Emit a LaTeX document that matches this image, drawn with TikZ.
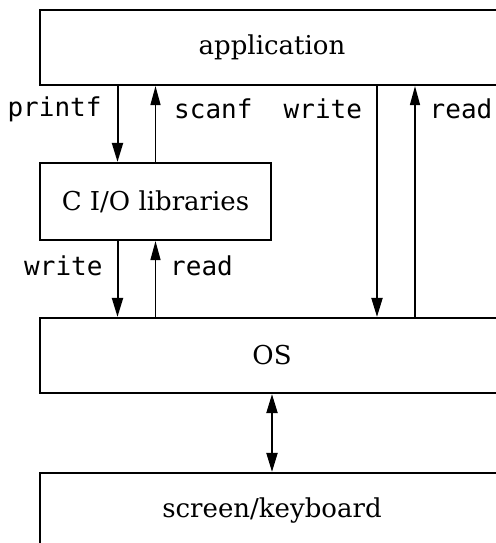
\documentclass[tikz,border=0pt]{standalone}
\usepackage{fontspec}
\setmainfont{DejaVu Serif}
\setmonofont{DejaVu Sans Mono}
\usetikzlibrary{arrows.meta, calc}

\begin{document}
\begin{tikzpicture}[x=1pt, y=1pt]
    % --- Styles ---
    \tikzstyle{layer}=[draw=black, line width=2.2pt, rectangle, minimum height=75pt, inner sep=0pt, font=\fontsize{26}{30}\selectfont]
    \tikzstyle{call}=[font=\ttfamily\fontsize{26}{30}\selectfont, inner sep=0pt]
    \tikzstyle{down}=[line width=2pt, -{Triangle[length=19pt, width=11pt]}]
    \tikzstyle{up}=[line width=1.4pt, -{Triangle[length=19pt, width=10pt]}]
    \tikzstyle{both}=[line width=2pt, {Triangle[length=19pt, width=11pt]}-{Triangle[length=19pt, width=11pt]}]

    \useasboundingbox (0, 0) rectangle (495, -543);
    \fill[white] (0, 0) rectangle (495, -543);

    % --- 1. Layers ---
    \node[layer, minimum width=464pt] (app) at (272, -47.5) {application};
    \node[layer, minimum width=231pt, minimum height=77pt] (lib) at (155.5, -201.5) {C I/O libraries};
    \node[layer, minimum width=464pt] (os) at (272, -355.5) {OS};
    \node[layer, minimum width=464pt] (dev) at (272, -510.5) {screen/keyboard};

    % --- 2. Calls through the library ---
    \draw[down] ($(lib.north |- app.south)+(-38, 0)$) -- ($(lib.north)+(-38, 0)$)
        node[call, pos=.3, left=15pt] {printf};
    \draw[up] (lib.north) -- (lib.north |- app.south)
        node[call, pos=.7, right=18pt] {scanf};
    \draw[down] ($(lib.south)+(-38, 0)$) -- ($(lib.south |- os.north)+(-38, 0)$)
        node[call, pos=.32, left=14pt] {write};
    \draw[up] (lib.south |- os.north) -- (lib.south)
        node[call, pos=.68, right=14pt] {read};

    % --- 3. Direct system calls ---
    \draw[down] ($(app.south)+(105, 0)$) -- ($(os.north)+(105, 0)$)
        node[call, pos=.1, left=14pt] {write};
    \draw[up] ($(os.north)+(143, 0)$) -- ($(app.south)+(143, 0)$)
        node[call, pos=.9, right=14pt] {read};

    % --- 4. Device ---
    \draw[both] (os.south) -- (dev.north);

\end{tikzpicture}
\end{document}
